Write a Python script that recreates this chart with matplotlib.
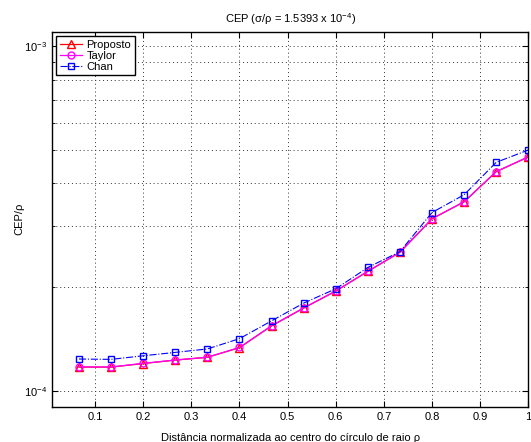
# CEP normalizado vs distancia
import matplotlib
matplotlib.use("Agg")
import matplotlib.pyplot as plt
import numpy as np

plt.rcParams['font.family'] = ['Liberation Sans', 'DejaVu Sans']
plt.rcParams['mathtext.fontset'] = 'custom'
plt.rcParams['mathtext.rm'] = 'Liberation Sans'

# distancia normalizada (passo 1/15)
dist = [0.0667, 0.1333, 0.2, 0.2667, 0.3333, 0.4, 0.4667, 0.5333,
        0.6, 0.6667, 0.7333, 0.8, 0.8667, 0.9333, 1.0]

proposto = [1.172e-4, 1.172e-4, 1.200e-4, 1.228e-4, 1.251e-4, 1.334e-4, 1.543e-4, 1.738e-4,
            1.947e-4, 2.221e-4, 2.522e-4, 3.155e-4, 3.535e-4, 4.323e-4, 4.768e-4]
taylor = [1.174e-4, 1.173e-4, 1.202e-4, 1.229e-4, 1.252e-4, 1.336e-4, 1.545e-4, 1.740e-4,
          1.949e-4, 2.224e-4, 2.524e-4, 3.158e-4, 3.538e-4, 4.327e-4, 4.772e-4]
chan = [1.237e-4, 1.234e-4, 1.264e-4, 1.293e-4, 1.323e-4, 1.417e-4, 1.596e-4, 1.797e-4,
        1.977e-4, 2.280e-4, 2.534e-4, 3.291e-4, 3.706e-4, 4.601e-4, 4.996e-4]

xticks = [0.1, 0.2, 0.3, 0.4, 0.5, 0.6, 0.7, 0.8, 0.9, 1.0]
xticklabels = ['0.1', '0.2', '0.3', '0.4', '0.5', '0.6', '0.7', '0.8', '0.9', '1']

fig = plt.figure(figsize=(5.31, 4.42), dpi=100)
ax = fig.add_axes([0.098, 0.080, 0.897, 0.848])

ax.semilogy(dist, proposto, '-^', color='red', mfc='none', ms=5.5, lw=0.9, label='Proposto')
ax.semilogy(dist, taylor, '-o', color='magenta', mfc='none', ms=5, lw=0.9, label='Taylor')
ax.semilogy(dist, chan, '-.s', color='blue', mfc='none', ms=5, lw=0.8, label='Chan')

ax.set_xlim(0.0107, 1.0)
ax.set_ylim(9e-5, 1.1e-3)
ax.set_xticks(xticks)
ax.set_xticklabels(xticklabels)

# grade pontilhada estilo matlab
ax.grid(True, which='major', linestyle=(0, (1, 3)), color='0.2', lw=0.7)
ax.grid(True, which='minor', axis='y', linestyle=(0, (1, 3)), color='0.2', lw=0.7)
ax.yaxis.set_minor_formatter(matplotlib.ticker.NullFormatter())

ax.tick_params(which='both', direction='in', top=True, right=True, labelsize=8)
ax.tick_params(which='major', length=4)
ax.tick_params(which='minor', length=2.5)
for s in ax.spines.values():
    s.set_linewidth(1.0)

ax.set_title('CEP (σ/ρ = 1.5393 x 10$^{-4}$)', fontsize=8, pad=6)
ax.set_xlabel('Distância normalizada ao centro do círculo de raio ρ', fontsize=8, labelpad=8)
ax.set_ylabel('CEP/ρ', fontsize=8, labelpad=0)

leg = ax.legend(loc='upper left', fontsize=8, fancybox=False, framealpha=1,
                edgecolor='black', borderpad=0.3, labelspacing=0.1, handlelength=2.0,
                handletextpad=0.4, borderaxespad=0.4)
leg.get_frame().set_linewidth(1.0)

fig.savefig('out.png', dpi=100)
